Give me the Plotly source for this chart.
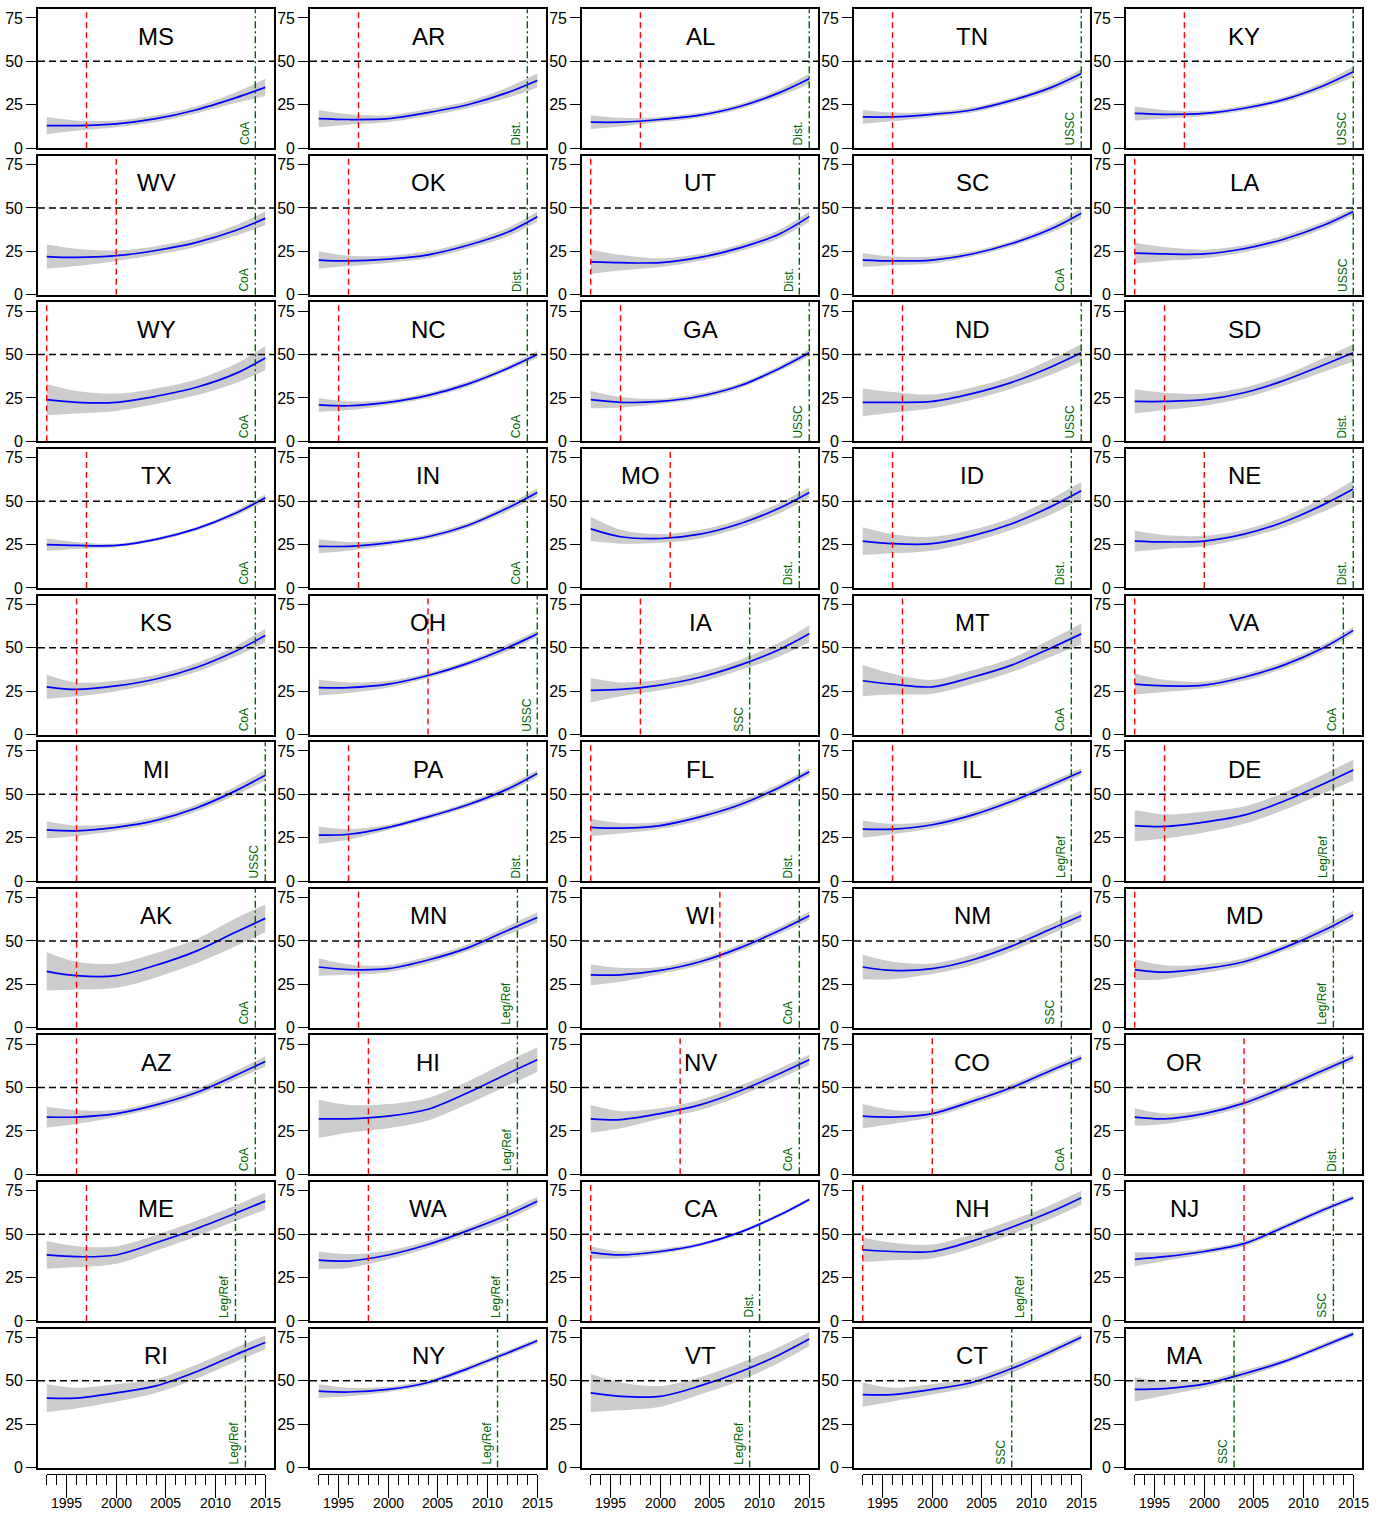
import plotly.graph_objects as go

# Grid of states, row by row
STATES = [
    "MS", "AR", "AL", "TN", "KY",
    "WV", "OK", "UT", "SC", "LA",
    "WY", "NC", "GA", "ND", "SD",
    "TX", "IN", "MO", "ID", "NE",
    "KS", "OH", "IA", "MT", "VA",
    "MI", "PA", "FL", "IL", "DE",
    "AK", "MN", "WI", "NM", "MD",
    "AZ", "HI", "NV", "CO", "OR",
    "ME", "WA", "CA", "NH", "NJ",
    "RI", "NY", "VT", "CT", "MA",
]

# Years at which the fitted support curve is given
YEARS = [1993, 1996, 2000, 2004, 2008, 2012, 2015]

# Fitted support (%) per state
FIT = {
    "MS": [13, 13, 14, 17, 22, 29, 35],
    "AR": [17, 16.5, 17, 20.5, 25, 32, 39],
    "AL": [15, 15, 16.5, 19, 24, 32, 40],
    "TN": [18, 18, 19.5, 22, 27.5, 35, 43],
    "KY": [20, 19.5, 20, 23, 28, 36, 44],
    "WV": [22, 21.5, 22.5, 25.5, 30, 37, 44],
    "OK": [20, 19.5, 20.5, 23, 28.5, 36, 45],
    "UT": [19, 18.5, 18.5, 21.5, 27, 35, 45],
    "SC": [20, 19.5, 20, 23.5, 29.5, 38, 47],
    "LA": [24, 23.5, 23.5, 26.5, 32, 40, 48],
    "WY": [24, 22.5, 22.5, 26, 31, 39, 48],
    "NC": [21, 20.5, 22.5, 26.5, 33, 42, 50],
    "GA": [24, 22.5, 23, 26, 32, 42, 51],
    "ND": [22.5, 22.5, 23, 27.5, 34, 43, 51],
    "SD": [23, 23, 24, 28, 35, 44, 51],
    "TX": [25, 24.5, 24.5, 28, 34, 43, 52],
    "IN": [24, 24, 26, 29.5, 36, 46, 55],
    "MO": [34, 29.5, 28.5, 31, 37, 46, 55],
    "ID": [27, 25.5, 25.5, 30, 37, 47, 56],
    "NE": [27, 26.5, 27, 31, 38, 48, 57],
    "KS": [27.5, 26, 28, 32, 38.5, 48, 57],
    "OH": [27, 27, 29, 34, 41, 50, 58],
    "IA": [25.5, 26, 28.5, 33, 40, 49, 58],
    "MT": [31, 29, 27.5, 33, 40, 50, 58],
    "VA": [29, 28, 28.5, 33, 40, 50, 60],
    "MI": [29.5, 29, 31, 35, 42, 52, 61],
    "PA": [26.5, 27, 31, 37, 44, 53, 62],
    "FL": [31, 30.5, 32, 37, 44, 54, 63],
    "IL": [30, 30, 32.5, 38, 46, 55.5, 63],
    "DE": [32, 31.5, 34, 38, 46, 56, 64],
    "AK": [32.5, 30, 30, 36, 44, 55, 63],
    "MN": [35, 33.5, 34, 39, 46, 56, 63.5],
    "WI": [30.5, 30.5, 33, 38, 46, 56, 64.5],
    "NM": [35, 33, 34, 39, 47, 57, 64.5],
    "MD": [33.5, 32, 34, 38, 46, 56, 65],
    "AZ": [33, 33, 35, 40, 47, 57, 65],
    "HI": [32, 32, 33.5, 37.5, 47, 58, 66],
    "NV": [32, 31.5, 35, 40, 48, 58, 66],
    "CO": [33.5, 33, 35, 42, 50, 60, 67],
    "OR": [33, 32, 35, 41, 50, 60, 67.5],
    "ME": [38, 37, 38, 45, 53, 62, 69],
    "WA": [35, 34.5, 38, 44, 52, 61, 69],
    "CA": [39.5, 38, 40, 44, 51, 61, 70],
    "NH": [41, 40, 40, 46, 54, 63, 71],
    "NJ": [35.5, 37, 40, 44.5, 54, 64, 71],
    "RI": [40, 40, 43, 47, 55, 65, 72],
    "NY": [44, 43.5, 45, 49, 57, 66, 73],
    "VT": [43, 41, 41, 47, 55, 65, 74],
    "CT": [42, 42, 45, 49, 57, 67, 75],
    "MA": [45, 45.5, 48, 54, 61, 70, 77],
}

# Half-width of the confidence band at the same years
BAND_HW = {
    "MS": [5, 3, 2, 2, 2, 3, 5],
    "AR": [5, 3, 2, 2, 2, 3, 4],
    "AL": [4, 2.5, 1.5, 1.5, 1.5, 2, 3],
    "TN": [4, 2.5, 1.5, 1.5, 1.5, 2, 2.5],
    "KY": [4, 2.5, 1.5, 1.5, 1.5, 2, 3],
    "WV": [7, 5, 3, 2.5, 2.5, 3, 4],
    "OK": [5, 3, 2, 2, 2, 2.5, 3],
    "UT": [7, 4.5, 2.5, 2, 2, 2.5, 3],
    "SC": [4, 2.5, 2, 1.5, 1.5, 2, 3],
    "LA": [6, 4, 2.5, 2, 2, 2, 2],
    "WY": [9, 6.5, 5, 4.5, 4.5, 5.5, 7],
    "NC": [4, 2.5, 1.5, 1.5, 1.5, 1.5, 2],
    "GA": [5, 3, 1.5, 1.5, 1.5, 1.5, 2],
    "ND": [8, 6, 4, 3.5, 3.5, 4.5, 5],
    "SD": [7, 5, 3.5, 3, 3, 4, 5],
    "TX": [3.5, 2, 1, 1, 1, 1.5, 2],
    "IN": [4, 2.5, 1.5, 1.5, 1.5, 2, 2.5],
    "MO": [7, 4, 2.5, 2.5, 2.5, 3, 3],
    "ID": [8, 5.5, 4, 3.5, 3.5, 4.5, 5],
    "NE": [6, 4, 3, 2.5, 3, 4, 5],
    "KS": [7, 4, 3, 2.5, 2.5, 3, 4],
    "OH": [4.5, 3, 2, 1.5, 1.5, 2, 2],
    "IA": [7, 4, 3, 3, 3, 4, 5],
    "MT": [9, 6, 4, 4, 4, 5, 6],
    "VA": [6, 3.5, 2, 2, 2, 2, 2],
    "MI": [5, 3, 2, 2, 2, 2.5, 3],
    "PA": [5, 3, 1.5, 1.5, 1.5, 2, 2],
    "FL": [5, 3, 2, 2, 2, 2, 2],
    "IL": [5, 3, 2, 2, 2, 2, 2],
    "DE": [9, 7, 6, 5, 5, 5.5, 6],
    "AK": [11, 8, 7, 7, 7, 8, 8],
    "MN": [5, 3, 2, 2, 2, 2.5, 3],
    "WI": [6, 4, 2, 2, 2, 2, 2.5],
    "NM": [7, 5, 3, 3, 3, 3, 3],
    "MD": [6, 4, 2.5, 2, 2, 2.5, 2.5],
    "AZ": [6, 4, 2, 2, 2, 2.5, 3],
    "HI": [11, 8, 7, 6.5, 6.5, 7, 7],
    "NV": [8, 5, 3, 3, 3, 3, 3],
    "CO": [7, 4, 2, 2, 2, 2, 2],
    "OR": [5, 3, 2, 2, 2, 2, 2],
    "ME": [8, 6, 5, 4.5, 4.5, 4.5, 5],
    "WA": [5, 4, 2.5, 2, 2, 2.5, 2.5],
    "CA": [3.5, 2, 1.5, 1, 1, 1, 1],
    "NH": [7, 5, 4, 4, 4, 4, 4],
    "NJ": [4, 2.5, 1.5, 1.5, 1.5, 1.5, 1.5],
    "RI": [8, 6, 5, 4, 4, 4, 4],
    "NY": [4, 2.5, 1.5, 1.5, 1.5, 1.5, 1.5],
    "VT": [11, 8, 6, 5, 5, 4.5, 4],
    "CT": [7, 4, 3, 2.5, 2.5, 2, 2],
    "MA": [7, 4, 2, 2, 1.5, 1.5, 1.5],
}

# Year of the red (dashed) marker; None where absent
RED_YEAR = [
    1997, 1997, 1998, 1996, 1998,
    2000, 1996, 1993, 1996, 1993,
    1993, 1995, 1996, 1997, 1996,
    1997, 1997, 2001, 1996, 2000,
    1996, 2004, 1998, 1997, 1993,
    1996, 1996, 1993, 1996, 1996,
    1996, 1997, 2006, None, 1993,
    1996, 1998, 2002, 2000, 2004,
    1997, 1998, 1993, 1993, 2004,
    None, None, None, None, None,
]

# Year and source of the marriage-equality event (green dash-dot)
GREEN_YEAR = [
    2014, 2014, 2015, 2015, 2015,
    2014, 2014, 2014, 2014, 2015,
    2014, 2014, 2015, 2015, 2015,
    2014, 2014, 2014, 2014, 2015,
    2014, 2015, 2009, 2014, 2014,
    2015, 2014, 2014, 2014, 2013,
    2014, 2013, 2014, 2013, 2013,
    2014, 2013, 2014, 2014, 2014,
    2012, 2012, 2010, 2010, 2013,
    2013, 2011, 2009, 2008, 2003,
]
GREEN_LABEL = [
    "CoA", "Dist.", "Dist.", "USSC", "USSC",
    "CoA", "Dist.", "Dist.", "CoA", "USSC",
    "CoA", "CoA", "USSC", "USSC", "Dist.",
    "CoA", "CoA", "Dist.", "Dist.", "Dist.",
    "CoA", "USSC", "SSC", "CoA", "CoA",
    "USSC", "Dist.", "Dist.", "Leg/Ref", "Leg/Ref",
    "CoA", "Leg/Ref", "CoA", "SSC", "Leg/Ref",
    "CoA", "Leg/Ref", "CoA", "CoA", "Dist.",
    "Leg/Ref", "Leg/Ref", "Dist.", "Leg/Ref", "SSC",
    "Leg/Ref", "Leg/Ref", "Leg/Ref", "SSC", "SSC",
]

# Bottom axis ticks
MAJOR_TICKS = [1995, 2000, 2005, 2010, 2015]
MINOR_TICKS = list(range(1993, 2016))
Y_TICKS = [0, 25, 50, 75]

# States whose name sits further left to stay clear of the curve
LEFT_NAME = {"MO", "OR", "NJ", "MA"}

# ---- layout geometry (figure pixels) ----
W, H = 1385, 1517
NCOL, NROW = 5, 10
COL_LEFT = 38.0
COL_PITCH = 272.0
PANEL_W = 236.0
ROW_TOP = 9.35
ROW_PITCH = 147.47
PANEL_H = 139.7
X_RANGE = [1992.12, 2015.88]
Y_RANGE = [0, 80]
AXIS_LINE_Y = 1482.7
YEAR_LABEL_Y = 1512.4

FONT = "Liberation Sans, Arial, Helvetica, sans-serif"
BAND_COLOR = "#cccccc"
GREEN = "#006400"

fig = go.Figure()
shapes = []
annotations = []
layout = dict(
    width=W, height=H, autosize=False,
    margin=dict(l=0, r=0, t=0, b=0),
    paper_bgcolor="white", plot_bgcolor="white",
    showlegend=False,
    font=dict(family=FONT, color="black"),
)


def xpix(col, year):
    left = COL_LEFT + col * COL_PITCH
    return left + (year - X_RANGE[0]) / (X_RANGE[1] - X_RANGE[0]) * PANEL_W


for k, st in enumerate(STATES):
    r, c = divmod(k, NCOL)
    sfx = "" if k == 0 else str(k + 1)
    xa, ya = "x" + sfx, "y" + sfx
    left = COL_LEFT + c * COL_PITCH
    top = ROW_TOP + r * ROW_PITCH
    layout["xaxis" + sfx] = dict(
        domain=[left / W, (left + PANEL_W) / W],
        range=X_RANGE, anchor=ya,
        showgrid=False, zeroline=False, showticklabels=False, ticks="",
        showline=True, mirror=True, linecolor="black", linewidth=1.7,
    )
    layout["yaxis" + sfx] = dict(
        domain=[1 - (top + PANEL_H) / H, 1 - top / H],
        range=Y_RANGE, anchor=xa,
        showgrid=False, zeroline=False,
        tickmode="array", tickvals=Y_TICKS,
        ticks="outside", ticklen=10, tickwidth=1.4, tickcolor="black",
        tickfont=dict(size=16, family=FONT, color="black"),
        showline=True, mirror=True, linecolor="black", linewidth=1.7,
    )

    fit = FIT[st]
    hw = BAND_HW[st]
    lower = [f - h for f, h in zip(fit, hw)]
    upper = [f + h for f, h in zip(fit, hw)]

    fig.add_trace(go.Scatter(
        x=YEARS, y=lower, xaxis=xa, yaxis=ya, mode="lines",
        line=dict(width=0, shape="spline", smoothing=0.9),
        hoverinfo="skip", showlegend=False,
    ))
    fig.add_trace(go.Scatter(
        x=YEARS, y=upper, xaxis=xa, yaxis=ya, mode="lines",
        line=dict(width=0, shape="spline", smoothing=0.9),
        fill="tonexty", fillcolor=BAND_COLOR,
        hoverinfo="skip", showlegend=False,
    ))
    fig.add_trace(go.Scatter(
        x=YEARS, y=fit, xaxis=xa, yaxis=ya, mode="lines",
        line=dict(color="blue", width=1.7, shape="spline", smoothing=0.9),
        hoverinfo="skip", showlegend=False,
    ))

    # 50% reference line
    shapes.append(dict(
        type="line", xref=xa + " domain", yref=ya, x0=0, x1=1, y0=50, y1=50,
        line=dict(color="black", width=1.5, dash="7px,4px"), layer="above",
    ))
    # red dashed marker
    if RED_YEAR[k] is not None:
        shapes.append(dict(
            type="line", xref=xa, yref=ya + " domain",
            x0=RED_YEAR[k], x1=RED_YEAR[k], y0=0, y1=1,
            line=dict(color="red", width=1.4, dash="6px,4px"), layer="above",
        ))
    # green dash-dot marker with its label
    shapes.append(dict(
        type="line", xref=xa, yref=ya + " domain",
        x0=GREEN_YEAR[k], x1=GREEN_YEAR[k], y0=0, y1=1,
        line=dict(color=GREEN, width=1.4, dash="7px,3px,2px,3px"), layer="above",
    ))
    annotations.append(dict(
        x=GREEN_YEAR[k], y=0, xref=xa, yref=ya,
        text=GREEN_LABEL[k], textangle=-90, showarrow=False,
        xanchor="right", yanchor="bottom", xshift=-2, yshift=1,
        font=dict(size=12, color=GREEN, family=FONT),
    ))
    # state name
    annotations.append(dict(
        x=1998 if st in LEFT_NAME else 2004, y=64.5, xref=xa, yref=ya,
        text=st, showarrow=False, xanchor="center", yanchor="middle",
        font=dict(size=24, color="black", family=FONT),
    ))

# Year axes under the bottom row
for c in range(NCOL):
    n = len(STATES) + 1 + c
    sfx = str(n)
    x0p = xpix(c, MINOR_TICKS[0])
    x1p = xpix(c, MINOR_TICKS[-1])
    layout["xaxis" + sfx] = dict(
        domain=[x0p / W, x1p / W],
        range=[MINOR_TICKS[0], MINOR_TICKS[-1]],
        anchor="free", position=1 - AXIS_LINE_Y / H, side="bottom",
        showgrid=False, zeroline=False,
        showline=True, linecolor="black", linewidth=1.4,
        tickmode="array", tickvals=MAJOR_TICKS, showticklabels=False,
        ticks="outside", ticklen=23, tickwidth=1.4, tickcolor="black",
        minor=dict(tickmode="array", tickvals=MINOR_TICKS, ticks="outside",
                   ticklen=10, tickwidth=1.4, tickcolor="black", showgrid=False),
    )
    layout["yaxis" + sfx] = dict(domain=[0, 0.005], range=[0, 1], visible=False,
                                 anchor="x" + sfx)
    fig.add_trace(go.Scatter(
        x=[MINOR_TICKS[0], MINOR_TICKS[-1]], y=[0, 0],
        xaxis="x" + sfx, yaxis="y" + sfx, mode="lines",
        line=dict(width=0), hoverinfo="skip", showlegend=False,
    ))
    for yr in MAJOR_TICKS:
        annotations.append(dict(
            x=yr, y=1 - YEAR_LABEL_Y / H, xref="x" + sfx, yref="paper",
            text=str(yr), showarrow=False, xanchor="center", yanchor="middle",
            font=dict(size=14, color="black", family=FONT),
        ))

layout["shapes"] = shapes
layout["annotations"] = annotations
fig.update_layout(**layout)
fig.write_html("out.html")
